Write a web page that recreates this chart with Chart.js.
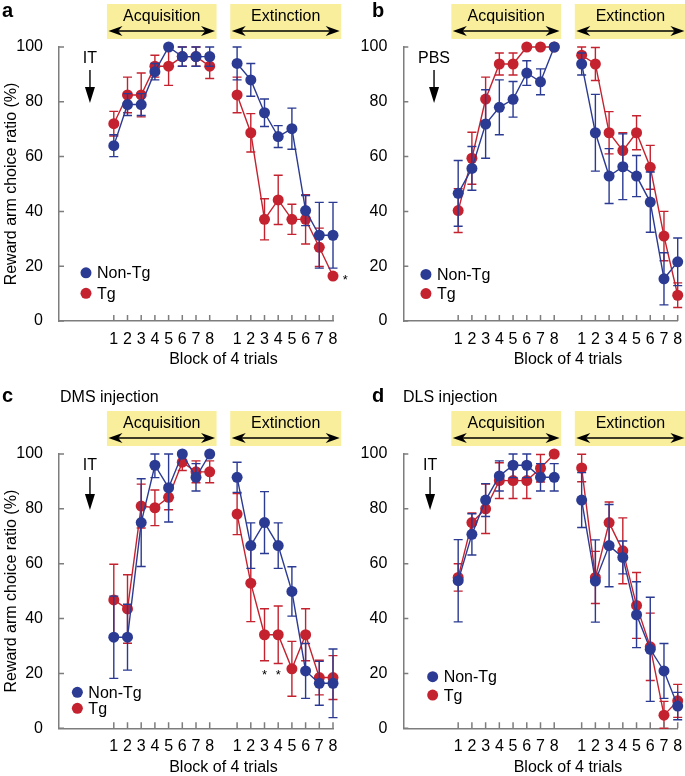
<!DOCTYPE html>
<html><head><meta charset="utf-8">
<script src="https://cdn.jsdelivr.net/npm/chart.js@4/dist/chart.umd.min.js"></script>
<style>
html,body{margin:0;padding:0;background:#fff;width:685px;height:776px;overflow:hidden;position:relative}
canvas{position:absolute;display:block}
</style></head><body>
<canvas id="ca"></canvas><canvas id="cb"></canvas><canvas id="cc"></canvas><canvas id="cd"></canvas>
<script>
// ---------- data ----------
const blockLabels = ['1','2','3','4','5','6','7','8'];
const yTickValues = [0, 20, 40, 60, 80, 100];
const seriesNames = ['Non-Tg', 'Tg'];

// panel a (IT)
const aNonTgAcq    = [64, 79, 79, 91, 100, 96.5, 96.5, 96.5];
const aNonTgAcqSem = [4, 4, 4, 3, 0, 3.5, 3.5, 3.5];
const aTgAcq       = [72, 82.5, 82.5, 93, 93, 96.5, 96.5, 93];
const aTgAcqSem    = [4.5, 6.5, 8, 4, 7, 3.5, 3.5, 4.5];
const aNonTgExt    = [94, 88, 76, 67.3, 70.2, 40.3, 31.3, 31.3];
const aNonTgExtSem = [6, 6, 5, 4, 7.5, 5.5, 12, 12];
const aTgExt       = [82.5, 68.7, 37.1, 44.2, 37.1, 37.1, 26.9, 16.4];
const aTgExtSem    = [6.5, 7, 7.5, 9, 5.5, 9, 7, 0];

// panel b (PBS)
const bNonTgAcq    = [46.6, 55.7, 71.9, 78, 80.9, 90.5, 87.3, 100];
const bNonTgAcqSem = [12, 8, 12.5, 10, 6.5, 4.5, 4.7, 0];
const bTgAcq       = [40.3, 59.4, 81, 93.8, 93.8, 100, 100, 100];
const bTgAcqSem    = [8, 9.5, 8, 4, 4, 0, 0, 0];
const bNonTgExt    = [93.8, 68.7, 52.9, 56.3, 52.9, 43.4, 15.4, 21.6];
const bNonTgExtSem = [4, 14, 10, 12, 7.5, 11, 9.5, 8.7];
const bTgExt       = [97, 93.8, 68.7, 62.2, 68.7, 56.1, 31, 9.4];
const bTgExtSem    = [3, 6, 7.7, 6.5, 6.2, 8, 9, 4.5];

// panel c (DMS injection)
const cNonTgAcq    = [33.2, 33.2, 75, 95.9, 87.7, 100, 91.5, 100];
const cNonTgAcqSem = [15, 12, 16, 4.5, 12.5, 0, 5, 0];
const cTgAcq       = [46.8, 43.5, 81, 80.4, 84.2, 97, 93.5, 93.5];
const cTgAcqSem    = [13, 12.5, 8, 6.5, 4.5, 3, 4, 4];
const cNonTgExt    = [91.5, 66.6, 75, 66.6, 49.9, 20.9, 16.4, 16.4];
const cNonTgExtSem = [5.5, 8.3, 11.3, 8.3, 9, 10, 8, 12.5];
const cTgExt       = [78.1, 52.9, 34.1, 34.1, 21.7, 34.1, 18.5, 18.5];
const cTgExtSem    = [7.5, 14, 9.5, 10.5, 10, 9.5, 6.3, 8];

// panel d (DLS injection)
const dNonTgAcq    = [53.8, 70.7, 83.2, 92, 95.9, 95.9, 91.5, 91.5];
const dNonTgAcqSem = [15, 7.5, 6, 5.5, 4.5, 4.5, 5, 5];
const dTgAcq       = [55, 75, 80, 90.3, 90.3, 90.3, 94.8, 100];
const dTgAcqSem    = [5, 3.5, 9, 6.5, 6.5, 6.5, 5, 0];
const dNonTgExt    = [83.2, 53.7, 66.6, 62.3, 41.4, 28.8, 20.9, 8.1];
const dNonTgExtSem = [10, 15, 15, 6, 12, 19, 10, 5];
const dTgExt       = [94.9, 55, 75, 64.7, 44.8, 29.7, 4.8, 10];
const dTgExtSem    = [5, 9.5, 7.5, 12, 12, 12.3, 5, 6];

// ---------- styling / layout ----------
const BLUE = '#2b3a92';
const RED = '#c4222f';
const AXIS = '#7d7d7d';
const YELLOW = '#f8ee9c';
const FONT = '"Liberation Sans", Arial, Helvetica, sans-serif';
const ACQ_START = 4, GAP_POS = 12, EXT_START = 13;

const panels = [
  {id:'ca', left:0, top:0, w:360, h:388, aL:59, aT:47, aR:333, aB:321,
   letter:'a', letterX:2, letterY:17, subtitle:null, yTitle:true, cue:'IT', cueX:2.26,
   legX:1.97, legY:[17.6, 10.1], stars:[[20.9, 15.5]],
   nonTg:[aNonTgAcq, aNonTgAcqSem, aNonTgExt, aNonTgExtSem], tg:[aTgAcq, aTgAcqSem, aTgExt, aTgExtSem]},
  {id:'cb', left:342, top:0, w:343, h:388, aL:61.3, aT:47, aR:335.7, aB:321,
   letter:'b', letterX:30, letterY:17, subtitle:null, yTitle:false, cue:'PBS', cueX:2.24,
   legX:1.65, legY:[17, 10], stars:[],
   nonTg:[bNonTgAcq, bNonTgAcqSem, bNonTgExt, bNonTgExtSem], tg:[bTgAcq, bTgAcqSem, bTgExt, bTgExtSem]},
  {id:'cc', left:0, top:388, w:360, h:388, aL:59, aT:66, aR:333, aB:340.3,
   letter:'c', letterX:2, letterY:14, subtitle:'DMS injection', subX:60, yTitle:true, cue:'IT', cueX:2.26,
   legX:1.34, legY:[13.1, 7.3], stars:[[15, 20], [16, 20]],
   nonTg:[cNonTgAcq, cNonTgAcqSem, cNonTgExt, cNonTgExtSem], tg:[cTgAcq, cTgAcqSem, cTgExt, cTgExtSem]},
  {id:'cd', left:342, top:388, w:343, h:388, aL:61.3, aT:66, aR:335.7, aB:340.3,
   letter:'d', letterX:30, letterY:14, subtitle:'DLS injection', subX:61, yTitle:false, cue:'IT', cueX:1.95,
   legX:2.14, legY:[18.8, 12.1], stars:[],
   nonTg:[dNonTgAcq, dNonTgAcqSem, dNonTgExt, dNonTgExtSem], tg:[dTgAcq, dTgAcqSem, dTgExt, dTgExtSem]}
];

function toPoints(acq, ext) {
  const pts = acq.map((v, i) => ({x: ACQ_START + i, y: v}));
  pts.push({x: GAP_POS, y: null});
  ext.forEach((v, i) => pts.push({x: EXT_START + i, y: v}));
  return pts;
}
function toErr(acqSem, extSem) { return acqSem.concat([null], extSem); }

const tickPositions = blockLabels.map((_, i) => ACQ_START + i).concat(blockLabels.map((_, i) => EXT_START + i));
function tickLabel(v) {
  if (v >= ACQ_START && v < ACQ_START + blockLabels.length) return blockLabels[v - ACQ_START];
  if (v >= EXT_START && v < EXT_START + blockLabels.length) return blockLabels[v - EXT_START];
  return '';
}

function arrowHead(ctx, tipX, tipY, dir, len, half) {
  ctx.beginPath();
  ctx.moveTo(tipX, tipY);
  ctx.lineTo(tipX - dir * len, tipY - half);
  ctx.lineTo(tipX - dir * len * 0.7, tipY);
  ctx.lineTo(tipX - dir * len, tipY + half);
  ctx.closePath();
  ctx.fill();
}

function makeDecor(p) {
  return {
    id: 'decor_' + p.id,
    beforeDatasetDraw(chart, args) {
      const ds = chart.data.datasets[args.index];
      const meta = chart.getDatasetMeta(args.index);
      const ys = chart.scales.y;
      const ctx = chart.ctx;
      ctx.save();
      ctx.strokeStyle = ds.borderColor;
      ctx.lineWidth = 1.4;
      ds.err.forEach((e, i) => {
        const v = ds.data[i].y;
        if (v === null || !e) return;
        const el = meta.data[i];
        const x = el.x;
        const yt = ys.getPixelForValue(Math.min(100, v + e));
        const yb = ys.getPixelForValue(Math.max(0, v - e));
        ctx.beginPath();
        ctx.moveTo(x, yt); ctx.lineTo(x, yb);
        ctx.moveTo(x - 4.5, yt); ctx.lineTo(x + 4.5, yt);
        ctx.moveTo(x - 4.5, yb); ctx.lineTo(x + 4.5, yb);
        ctx.stroke();
      });
      ctx.restore();
    },
    afterDraw(chart) {
      const ctx = chart.ctx;
      const xs = chart.scales.x, ys = chart.scales.y;
      const a = chart.chartArea;
      ctx.save();
      // inward tick marks
      ctx.strokeStyle = AXIS; ctx.lineWidth = 1.5;
      ctx.beginPath();
      yTickValues.forEach(v => {
        const y = ys.getPixelForValue(v);
        ctx.moveTo(a.left, y); ctx.lineTo(a.left + 5, y);
      });
      tickPositions.forEach(v => {
        const x = xs.getPixelForValue(v);
        ctx.moveTo(x, a.bottom); ctx.lineTo(x, a.bottom - 6);
      });
      ctx.stroke();

      // phase boxes
      const boxes = [['Acquisition', 3.5, 11.5], ['Extinction', 12.5, 20.6]];
      boxes.forEach(([txt, x0v, x1v]) => {
        const x0 = xs.getPixelForValue(x0v), x1 = xs.getPixelForValue(x1v);
        const y0 = a.top - 43, y1 = a.top - 8;
        ctx.fillStyle = YELLOW;
        ctx.fillRect(x0, y0, x1 - x0, y1 - y0);
        ctx.fillStyle = '#000';
        ctx.font = '16px ' + FONT;
        ctx.textAlign = 'center'; ctx.textBaseline = 'middle';
        ctx.fillText(txt, (x0 + x1) / 2, a.top - 30);
        const ay = a.top - 16;
        ctx.strokeStyle = '#000'; ctx.lineWidth = 1.6;
        ctx.beginPath(); ctx.moveTo(x0 + 8, ay); ctx.lineTo(x1 - 8, ay); ctx.stroke();
        arrowHead(ctx, x0 + 1.5, ay, -1, 14, 5);
        arrowHead(ctx, x1 - 1.5, ay, 1, 14, 5);
      });

      // cue arrow (IT / PBS)
      const cx = xs.getPixelForValue(p.cueX);
      ctx.fillStyle = '#000';
      ctx.font = '16px ' + FONT;
      ctx.textAlign = 'center'; ctx.textBaseline = 'middle';
      ctx.fillText(p.cue, cx, a.top + 12);
      ctx.strokeStyle = '#000'; ctx.lineWidth = 1.4;
      ctx.beginPath(); ctx.moveTo(cx, a.top + 23); ctx.lineTo(cx, a.top + 42); ctx.stroke();
      ctx.beginPath();
      ctx.moveTo(cx - 5, a.top + 40); ctx.lineTo(cx + 5, a.top + 40); ctx.lineTo(cx, a.top + 56); ctx.closePath();
      ctx.fill();

      // legend
      const cols = [BLUE, RED];
      seriesNames.forEach((name, i) => {
        const lx = xs.getPixelForValue(p.legX), ly = ys.getPixelForValue(p.legY[i]);
        ctx.fillStyle = cols[i];
        ctx.beginPath(); ctx.arc(lx, ly, 5.5, 0, Math.PI * 2); ctx.fill();
        ctx.fillStyle = '#000';
        ctx.textAlign = 'left'; ctx.textBaseline = 'middle';
        ctx.font = '16px ' + FONT;
        ctx.fillText(name, lx + 11, ly + 1);
      });

      // significance stars
      ctx.font = '13px ' + FONT;
      ctx.textAlign = 'center'; ctx.textBaseline = 'middle';
      p.stars.forEach(([sx, sy]) => {
        ctx.fillText('*', xs.getPixelForValue(sx), ys.getPixelForValue(sy) + 2);
      });

      // x title
      ctx.font = '16px ' + FONT;
      ctx.fillText('Block of 4 trials', xs.getPixelForValue(GAP_POS), a.bottom + 39);

      // y title
      if (p.yTitle) {
        ctx.save();
        ctx.translate(12, (a.top + a.bottom) / 2);
        ctx.rotate(-Math.PI / 2);
        ctx.textAlign = 'center'; ctx.textBaseline = 'middle';
        ctx.fillText('Reward arm choice ratio (%)', 0, 0);
        ctx.restore();
      }

      // panel letter & subtitle
      ctx.textAlign = 'left'; ctx.textBaseline = 'alphabetic';
      ctx.font = 'bold 20px ' + FONT;
      ctx.fillText(p.letter, p.letterX, p.letterY);
      if (p.subtitle) {
        ctx.font = '16px ' + FONT;
        ctx.fillText(p.subtitle, p.subX, p.letterY);
      }
      ctx.restore();
    }
  };
}

panels.forEach(p => {
  const cv = document.getElementById(p.id);
  cv.width = p.w; cv.height = p.h;
  cv.style.left = p.left + 'px'; cv.style.top = p.top + 'px';
  cv.style.width = p.w + 'px'; cv.style.height = p.h + 'px';
  const mk = (name, color, arr) => ({
    label: name,
    data: toPoints(arr[0], arr[2]),
    err: toErr(arr[1], arr[3]),
    borderColor: color, backgroundColor: color,
    pointBackgroundColor: color, pointBorderColor: color,
    pointRadius: 5.5, pointBorderWidth: 0, pointHoverRadius: 5.5,
    borderWidth: 1.4, spanGaps: false, tension: 0, clip: false
  });
  new Chart(cv, {
    type: 'line',
    data: { datasets: [mk(seriesNames[0], BLUE, p.nonTg), mk(seriesNames[1], RED, p.tg)] },
    options: {
      responsive: false, animation: false, devicePixelRatio: 1,
      layout: { padding: { left: 0, top: p.aT, right: p.w - p.aR, bottom: 0 } },
      plugins: { legend: { display: false }, tooltip: { enabled: false } },
      scales: {
        x: {
          type: 'linear', min: 0, max: 20,
          afterBuildTicks: s => { s.ticks = tickPositions.map(v => ({ value: v })); },
          afterFit: s => { s.height = p.h - p.aB; },
          ticks: { callback: v => tickLabel(v), autoSkip: false, maxRotation: 0, minRotation: 0,
                   color: '#000', font: { family: FONT, size: 16 }, padding: 1 },
          grid: { display: false },
          border: { display: true, color: AXIS, width: 1.5 }
        },
        y: {
          min: 0, max: 100,
          afterBuildTicks: s => { s.ticks = yTickValues.map(v => ({ value: v })); },
          afterFit: s => { s.width = p.aL; },
          ticks: { color: '#000', font: { family: FONT, size: 16 }, padding: 8 },
          grid: { display: false },
          border: { display: true, color: AXIS, width: 1.5 }
        }
      }
    },
    plugins: [makeDecor(p)]
  });
});
</script>
</body></html>
